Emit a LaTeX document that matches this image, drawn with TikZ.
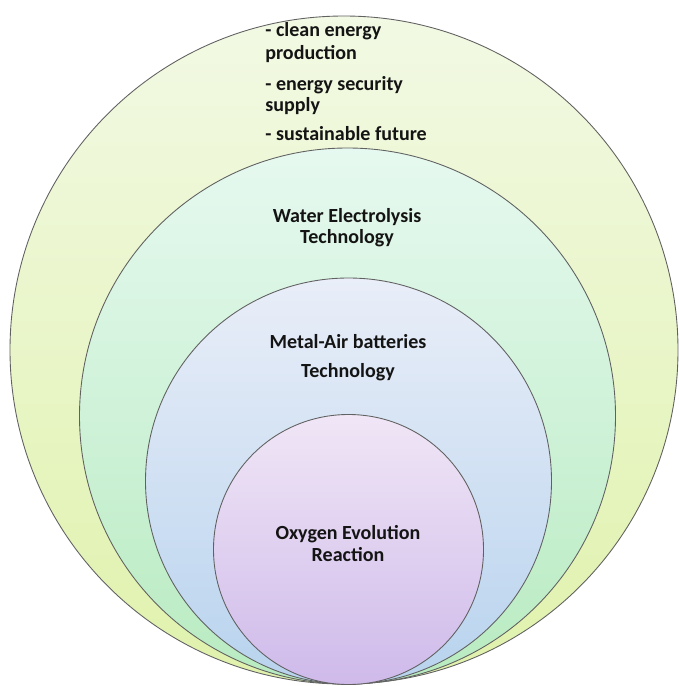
\documentclass[tikz,border=0pt]{standalone}
\usepackage{fontspec}
\setmainfont{Carlito}
\begin{document}
\begin{tikzpicture}[x=0.02cm, y=-0.02cm,
  ring/.style={draw=black!62, line width=0.5pt},
  lbl/.style={font=\fontsize{11.4}{13}\selectfont\bfseries, text=black!92, inner sep=0pt},
  lblL/.style={lbl, anchor=base west},
  lblC/.style={lbl, anchor=base}]
  \definecolor{outerTop}{HTML}{F2F9E4}
  \definecolor{outerBot}{HTML}{E0F2AC}
  \definecolor{waterTop}{HTML}{E6F9F0}
  \definecolor{waterBot}{HTML}{B8EBC0}
  \definecolor{metalTop}{HTML}{E9EEF8}
  \definecolor{metalBot}{HTML}{B8D3EE}
  \definecolor{oerTop}{HTML}{F0E6F6}
  \definecolor{oerBot}{HTML}{CFBAEA}
  \path[use as bounding box] (0,0) rectangle (679,686);

  % nested circles, all touching at the bottom
  \draw[ring, top color=outerTop, bottom color=outerBot] (344,350) circle[radius=334];
  \draw[ring, top color=waterTop, bottom color=waterBot] (347.5,416) circle[radius=268];
  \draw[ring, top color=metalTop, bottom color=metalBot] (348.5,481) circle[radius=203];
  \draw[ring, top color=oerTop, bottom color=oerBot] (348.5,549.5) circle[radius=135];

  % outer ring: goals
  \node[lblL] (g1a) at (265,37) {- clean energy};
  \node[lblL] (g1b) at (265,60) {production};
  \node[lblL] (g2a) at (265,91) {- energy security};
  \node[lblL] (g2b) at (265,112) {supply};
  \node[lblL] (g3)  at (265,140) {- sustainable future};

  % inner labels
  \node[lblC] (we1) at (347,222) {Water Electrolysis};
  \node[lblC] (we2) at (347,243) {Technology};
  \node[lblC] (ma1) at (348,348) {Metal-Air batteries};
  \node[lblC] (ma2) at (348,377) {Technology};
  \node[lblC] (oe1) at (348,539) {Oxygen Evolution};
  \node[lblC] (oe2) at (348,561) {Reaction};
\end{tikzpicture}
\end{document}
